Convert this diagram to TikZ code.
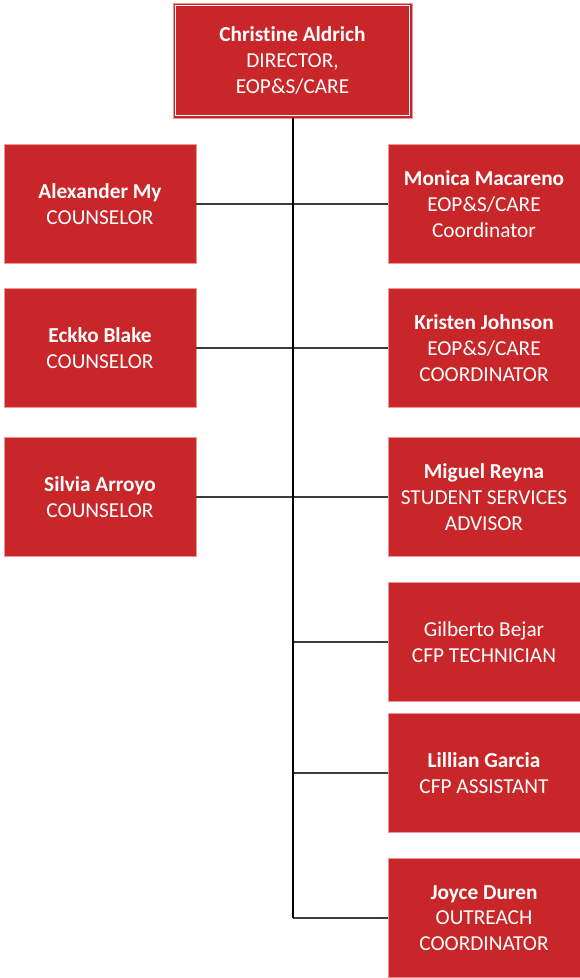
\documentclass[tikz,border=0pt]{standalone}
\usepackage{fontspec}
\setmainfont{Carlito}[Ligatures={NoCommon}]
\definecolor{boxred}{RGB}{200,38,41}
\definecolor{boxedge}{RGB}{232,150,150}
\definecolor{linegray}{RGB}{60,60,60}
\begin{document}
\begin{tikzpicture}[x=1pt,y=-1pt,
  card/.style={draw=boxedge, line width=0.8pt, fill=boxred, text=white, align=center,
    minimum width=192pt, minimum height=119pt, inner sep=0pt,
    font=\fontsize{21.3}{25.8}\selectfont},
  link/.style={draw=linegray, line width=1.8pt},
  spine/.style={draw=black, line width=2pt}]
\useasboundingbox (0,0) rectangle (579,978);
\node[card, minimum width=239pt, minimum height=115pt] (top) at (292.5,60.5)
  {\textbf{Christine Aldrich}\\DIRECTOR,\\EOP\&S/CARE};
\draw[white, line width=1.2pt] ([xshift=3pt,yshift=-3pt]top.north west) rectangle ([xshift=-3pt,yshift=3pt]top.south east);
\node[card] (alex) at (100,204) {\textbf{Alexander My}\\COUNSELOR};
\node[card] (eckko) at (100,348) {\textbf{Eckko Blake}\\COUNSELOR};
\node[card] (silvia) at (100,497) {\textbf{Silvia Arroyo}\\COUNSELOR};
\node[card] (monica) at (484,204) {\textbf{Monica Macareno}\\EOP\&S/CARE\\Coordinator};
\node[card] (kristen) at (484,348) {\textbf{Kristen Johnson}\\EOP\&S/CARE\\COORDINATOR};
\node[card] (miguel) at (484,497) {\textbf{Miguel Reyna}\\STUDENT SERVICES\\ADVISOR};
\node[card] (gilberto) at (484,642) {Gilberto Bejar\\CFP TECHNICIAN};
\node[card] (lillian) at (484,773) {\textbf{Lillian Garcia}\\CFP ASSISTANT};
\node[card] (joyce) at (484,918) {\textbf{Joyce Duren}\\OUTREACH\\COORDINATOR};
\coordinate (spineend) at (top.south |- joyce.west);
\draw[link] (alex.east) -- (monica.west);
\draw[link] (eckko.east) -- (kristen.west);
\draw[link] (silvia.east) -- (miguel.west);
\draw[link] (gilberto.west) -- (gilberto.west -| top.south);
\draw[link] (lillian.west) -- (lillian.west -| top.south);
\draw[link] (joyce.west) -- (spineend);
\draw[spine] (top.south) -- (spineend);
\end{tikzpicture}
\end{document}
